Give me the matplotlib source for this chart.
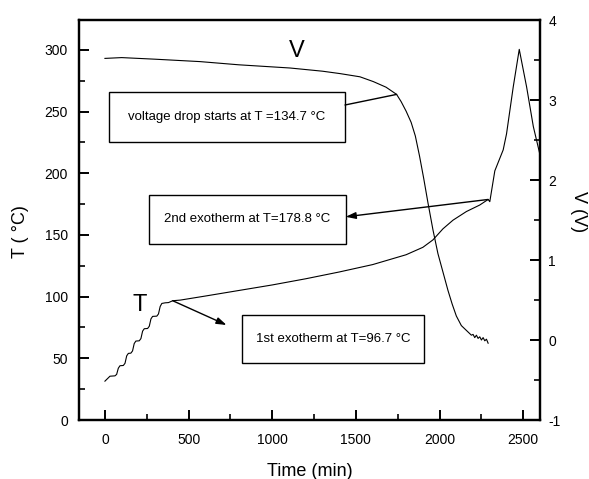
import matplotlib
matplotlib.use("Agg")
import matplotlib.pyplot as plt
from matplotlib.patches import Rectangle
from matplotlib.ticker import MultipleLocator

plt.rcParams['font.family'] = ['Liberation Sans', 'DejaVu Sans']
plt.rcParams['axes.unicode_minus'] = False

# Temperature record (left axis)
time_T = [0, 15, 30, 60, 70, 80, 90, 110, 120, 130, 140, 155, 165, 175, 185,
          205, 215, 225, 235, 255, 265, 275, 285, 310, 320, 330, 340, 360,
          380, 405, 450, 600, 800, 1000, 1200, 1400, 1600, 1800, 1900, 1960,
          2020, 2080, 2160, 2240, 2290, 2300, 2330, 2380, 2400, 2440, 2476,
          2520, 2560, 2600]
temp = [31.5, 33.5, 35.5, 35.8, 37, 42, 44, 44.2, 46, 52, 54, 54.2, 56, 62,
        64, 64.2, 66, 72, 74, 74.2, 76, 82, 84, 84.2, 86, 92, 94.5, 95, 95.2,
        96.7, 97.2, 100.5, 105, 109.5, 114.5, 120, 126, 134, 140, 146, 155,
        162, 169, 174.3, 178.8, 177, 202, 219, 232, 270, 300.5, 270, 238, 215]

# Cell voltage record (right axis)
time_V = [0, 100, 300, 568, 800, 1106, 1300, 1405, 1524, 1604, 1680, 1743,
          1770, 1800, 1830, 1855, 1880, 1905, 1930, 1960, 1990, 2020, 2050,
          2075, 2100, 2130, 2160, 2180, 2190, 2200, 2210, 2220, 2230, 2240,
          2250, 2260, 2270, 2280, 2290]
volt = [3.52, 3.53, 3.51, 3.48, 3.44, 3.40, 3.36, 3.33, 3.29, 3.23, 3.16, 3.07,
        2.98, 2.86, 2.72, 2.55, 2.30, 2.02, 1.72, 1.38, 1.08, 0.85, 0.62, 0.45,
        0.30, 0.18, 0.12, 0.08, 0.06, 0.07, 0.03, 0.06, 0.02, 0.04, 0.0, 0.03,
        -0.01, 0.01, -0.04]

# Events marked on the curves
t_first_exo, T_first_exo = 405, 96.7
t_second_exo, T_second_exo = 2290, 178.8
t_vdrop, V_vdrop, T_vdrop = 1743, 3.07, 134.7

x_ticks = [0, 500, 1000, 1500, 2000, 2500]
T_ticks = [0, 50, 100, 150, 200, 250, 300]
V_ticks = [-1, 0, 1, 2, 3, 4]

fig = plt.figure(figsize=(5.89, 4.79), dpi=100)
ax = fig.add_axes([79 / 589, 1 - 420 / 479, 461 / 589, 400 / 479])
ax2 = ax.twinx()

ax.plot(time_T, temp, color='black', lw=0.8)
ax2.plot(time_V, volt, color='black', lw=0.8)

ax.set_xlim(-155, 2600)
ax.set_ylim(0, 324.3)
ax2.set_ylim(-1, 4)

ax.set_xticks(x_ticks)
ax.set_yticks(T_ticks)
ax2.set_yticks(V_ticks)
ax.xaxis.set_minor_locator(MultipleLocator(250))
ax.yaxis.set_minor_locator(MultipleLocator(25))
ax2.yaxis.set_minor_locator(MultipleLocator(0.5))

for a in (ax, ax2):
    for s in a.spines.values():
        s.set_linewidth(1.6)
    a.tick_params(which='major', direction='in', length=7, width=1.4,
                  labelsize=10, pad=8)
    a.tick_params(which='minor', direction='in', length=4, width=1.2)
ax.tick_params(axis='x', pad=9)
ax.tick_params(axis='y', right=False, which='both')
ax2.tick_params(axis='y', left=False, which='both', pad=6)

ax.set_xlabel('Time (min)', fontsize=13, labelpad=12)
ax.set_ylabel('T ( °C)', fontsize=13)
ax.yaxis.set_label_coords(-0.108, 0.47)
ax2.set_ylabel('V (V)', fontsize=13, rotation=270, va='center')
ax2.yaxis.set_label_coords(1.083, 0.52)

ax.text(0.472, 0.922, 'V', transform=ax.transAxes, fontsize=17,
        ha='center', va='center')
ax.text(0.132, 0.2875, 'T', transform=ax.transAxes, fontsize=17,
        ha='center', va='center')

boxes = [
    ((0.065, 0.695), 0.512, 0.125, f'voltage drop starts at T ={T_vdrop} °C'),
    ((0.1525, 0.44), 0.426, 0.1225, f'2nd exotherm at T={T_second_exo} °C'),
    ((0.353, 0.142), 0.395, 0.1205, f'1st exotherm at T={T_first_exo} °C'),
]
for (x0, y0), w, h, label in boxes:
    ax.add_patch(Rectangle((x0, y0), w, h, transform=ax.transAxes,
                           facecolor='white', edgecolor='black', lw=1.0,
                           zorder=3))
    ax.text(x0 + w / 2, y0 + h / 2, label, transform=ax.transAxes,
            fontsize=9.5, ha='center', va='center', zorder=4)

# Leader from the voltage-drop box to the V curve
ax2.annotate('', xy=(t_vdrop, V_vdrop), xycoords='data',
             xytext=(0.577, 0.7875), textcoords=ax.transAxes,
             arrowprops=dict(arrowstyle='-', color='black', lw=1.0,
                             shrinkA=0, shrinkB=0))
# Arrow from the second exotherm to its box
ax.annotate('', xy=(0.5785, 0.508), xycoords='axes fraction',
            xytext=(t_second_exo, T_second_exo), textcoords='data',
            arrowprops=dict(arrowstyle='-|>,head_length=0.6,head_width=0.2',
                            color='black', lw=1.0, shrinkA=0, shrinkB=0,
                            mutation_scale=10), zorder=5)
# Arrow from the first exotherm toward its box
ax.annotate('', xy=(0.320, 0.2375), xycoords='axes fraction',
            xytext=(t_first_exo, T_first_exo), textcoords='data',
            arrowprops=dict(arrowstyle='-|>,head_length=0.6,head_width=0.2',
                            color='black', lw=1.0, shrinkA=0, shrinkB=0,
                            mutation_scale=10), zorder=5)

fig.savefig('out.png', dpi=100)
